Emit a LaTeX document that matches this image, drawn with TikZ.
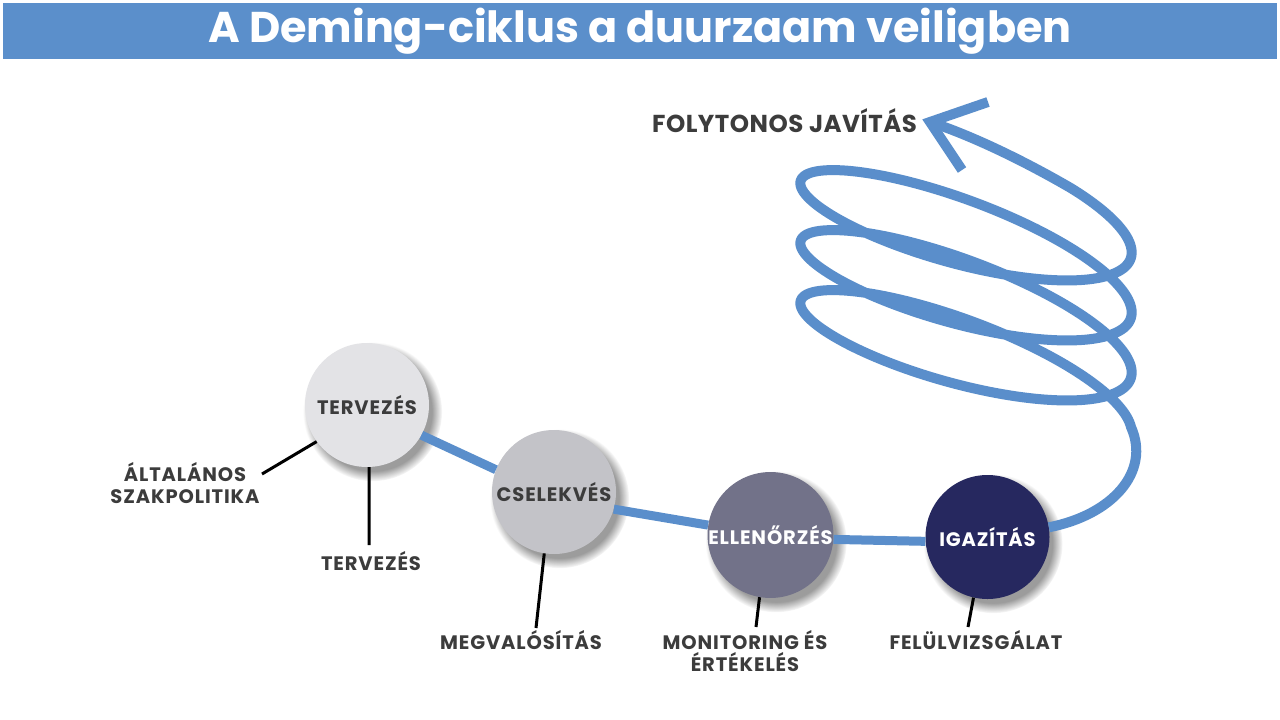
\documentclass[tikz,border=0pt]{standalone}
\usepackage{fontspec}
\setmainfont{Poppins}
\usetikzlibrary{shadows,calc}
\definecolor{barblue}{HTML}{5B8FCB}
\definecolor{spblue}{HTML}{5A8ECB}
\definecolor{txtdark}{HTML}{3C3C3C}
\definecolor{cA}{HTML}{E3E3E6}
\definecolor{cB}{HTML}{C3C3C8}
\definecolor{cC}{HTML}{727289}
\definecolor{cD}{HTML}{26285F}
\newfontfamily\lblfont{Poppins}[LetterSpace=4.5]
\newfontfamily\fjfont{Poppins}[LetterSpace=2]
\tikzset{
  circ/.style={circle, minimum size=124pt, inner sep=0pt,
    font=\lblfont\fontsize{19.5}{21}\selectfont\bfseries,
    circular drop shadow={shadow xshift=5pt, shadow yshift=-6pt, shadow scale=1.12, opacity=0.55, fill=black!70}},
  lbl/.style={font=\lblfont\fontsize{19.5}{22}\selectfont\bfseries, text=txtdark, align=center, inner sep=0pt},
  conn/.style={draw=spblue, line width=9pt},
  tick/.style={draw=black, line width=3pt},
  spiral/.style={draw=spblue, line width=10pt, line join=round}
}
\begin{document}
\begin{tikzpicture}[x=1pt,y=-1pt]
\useasboundingbox (0,0) rectangle (1280,720);
\fill[white] (0,0) rectangle (1280,720);
% title
\node[fill=barblue, minimum width=1274pt, minimum height=56pt, inner sep=0pt,
      text=white, font=\fontsize{43}{43}\selectfont\bfseries] (title) at (640,31) {A Deming-ciklus a duurzaam veiligben};
% spiral
\coordinate (tip) at (930,122);
\coordinate (hs) at (1131,427);
% circles
\node[circ, fill=cA, text=txtdark] (terv) at (367,405) {TERVEZÉS};
\node[circ, fill=cB, text=txtdark] (csel) at (554,492) {CSELEKVÉS};
\node[circ, fill=cC, text=white] (ell) at (770.5,535) {ELLENŐRZÉS};
\node[circ, fill=cD, text=white] (iga) at (987.5,537) {IGAZÍTÁS};
% spiral path
\draw[spiral] (iga.9) .. controls (1112,515) and (1151,472) .. (hs)
  -- plot[domain=0:19.65, samples=500, smooth] ({966+165*cos(\x r)-15*sin(\x r)}, {382-9.55*\x+45*cos(\x r)-53*sin(\x r)})
  .. controls (1026,162) and (973,136) .. (tip);
\draw[spiral, line join=miter, line cap=butt] ($(tip)+(58,-20)$) -- (tip) -- ($(tip)+(32,48)$);
% connectors
\draw[conn] (terv.-29) -- (csel.159);
\draw[conn] (csel.-16) -- (ell.171);
\draw[conn] (ell.-4) -- (iga.184);
% labels
\node[font=\fjfont\fontsize{24.5}{24}\selectfont\bfseries, text=txtdark, inner sep=0pt] (fj) at (784.5,121) {FOLYTONOS JAVÍTÁS};
\node[lbl] (l1) at (185,483) {ÁLTALÁNOS\\SZAKPOLITIKA};
\node[lbl] (l2) at (371,561) {TERVEZÉS};
\node[lbl] (l3) at (521,640) {MEGVALÓSÍTÁS};
\node[lbl] (l4) at (745,651) {MONITORING ÉS\\ÉRTÉKELÉS};
\node[lbl] (l5) at (976,640) {FELÜLVIZSGÁLAT};
% ticks
\coordinate (e1) at (262,474);
\coordinate (e2) at (369,545);
\coordinate (e3) at (536,628);
\coordinate (e4) at (756,627);
\coordinate (e5) at (968,627);
\draw[tick] (terv.216) -- (e1);
\draw[tick] (terv.-88) -- (e2);
\draw[tick] (csel.-99) -- (e3);
\draw[tick] (ell.-100) -- (e4);
\draw[tick] (iga.-103) -- (e5);
\end{tikzpicture}
\end{document}
